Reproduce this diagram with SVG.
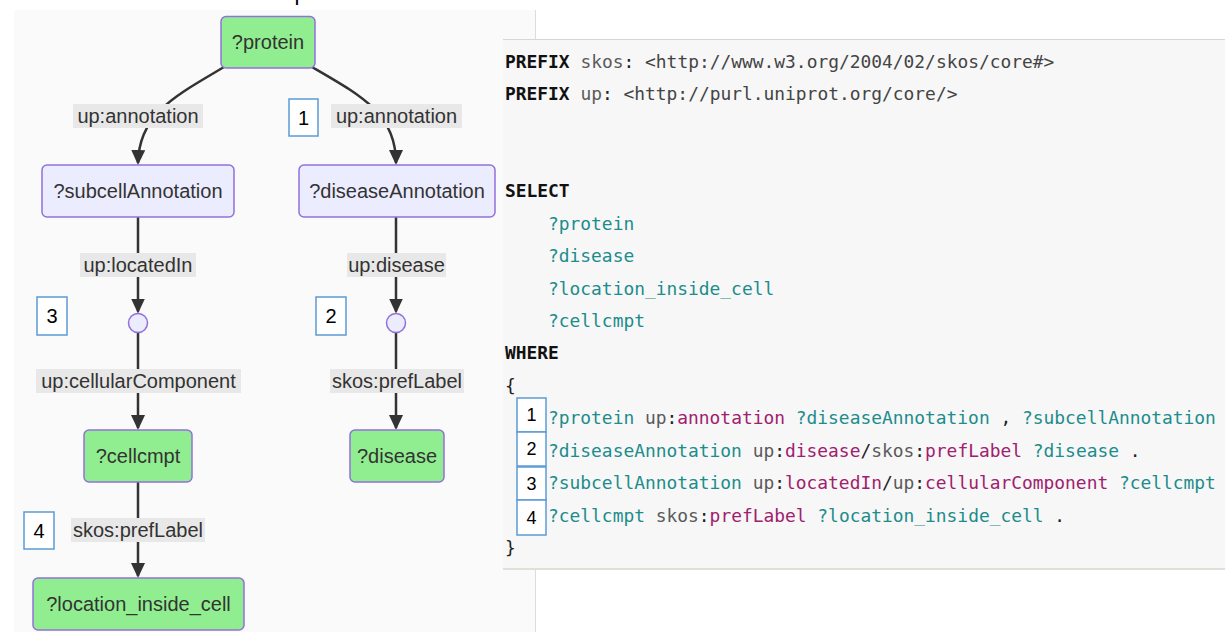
<svg xmlns="http://www.w3.org/2000/svg" width="1225" height="632" viewBox="0 0 1225 632">
<defs>
<style>
.node rect{stroke:#9370db;stroke-width:1.5}
.leaf rect{fill:#90ee90}
.mid rect{fill:#ececff}
.nt{font-family:"Liberation Sans",Arial,sans-serif;font-size:20px;fill:#333;text-anchor:middle;dominant-baseline:central}
.edge{fill:none;stroke:#333;stroke-width:2.5}
.lbg{fill:#e8e8e8}
.lt{font-family:"Liberation Sans",Arial,sans-serif;font-size:20px;fill:#333;text-anchor:middle;dominant-baseline:central}
.num rect{fill:#fff;stroke:#5b9bd5;stroke-width:1.5}
.num text{font-family:"Liberation Sans",Arial,sans-serif;font-size:20px;fill:#000;text-anchor:middle;dominant-baseline:central}
.code{font-family:"DejaVu Sans Mono","Liberation Mono",monospace;font-size:17.9px;fill:#222}
.kw{font-weight:bold;fill:#111}
.pf{fill:#5a5a5a}
.url{fill:#444}
.v{fill:#1c8c8c}
.p{fill:#a0206e}
.cn rect{fill:#fff;stroke:#5b9bd5;stroke-width:1.5}
.cn text{font-family:"Liberation Sans",Arial,sans-serif;font-size:18px;fill:#000;text-anchor:middle;dominant-baseline:central}
</style>
<marker id="ah" markerUnits="userSpaceOnUse" markerWidth="15" markerHeight="14" viewBox="0 0 15 14" refX="13" refY="7" orient="auto">
<path d="M0,0 L15,7 L0,14 z" fill="#333"/>
</marker>
</defs>
<rect x="0" y="0" width="1225" height="632" fill="#fff"/>
<text x="294.5" y="0" font-family="Liberation Sans,Arial,sans-serif" font-size="22" fill="#000">p</text>
<rect x="14" y="10" width="521" height="622" fill="#fafafa"/>
<line x1="535.5" y1="10" x2="535.5" y2="632" stroke="#dcdcdc" stroke-width="1"/>

<g id="connectors">
<path class="edge" d="M224,67 C175,96 139,114 138,163" marker-end="url(#ah)"/>
<path class="edge" d="M312,67 C362,96 396,114 396,163" marker-end="url(#ah)"/>
<path class="edge" d="M138,217 L138,311.5" marker-end="url(#ah)"/>
<path class="edge" d="M396,217 L396,311.5" marker-end="url(#ah)"/>
<path class="edge" d="M138,333 L138,428" marker-end="url(#ah)"/>
<path class="edge" d="M396,333 L396,428" marker-end="url(#ah)"/>
<path class="edge" d="M138,482 L138,576" marker-end="url(#ah)"/>
</g>

<g id="edge-labels">
<rect class="lbg" x="73" y="104" width="130" height="24"/><text class="lt" x="138" y="116">up:annotation</text>
<rect class="lbg" x="331" y="104" width="131" height="24"/><text class="lt" x="396.5" y="116">up:annotation</text>
<rect class="lbg" x="80" y="253" width="116" height="24"/><text class="lt" x="138" y="265">up:locatedIn</text>
<rect class="lbg" x="347" y="253" width="99" height="24"/><text class="lt" x="396.5" y="265">up:disease</text>
<rect class="lbg" x="36" y="369" width="205" height="24"/><text class="lt" x="138.5" y="381">up:cellularComponent</text>
<rect class="lbg" x="330" y="369" width="134" height="24"/><text class="lt" x="397" y="381">skos:prefLabel</text>
<rect class="lbg" x="71" y="518" width="134" height="24"/><text class="lt" x="138" y="530">skos:prefLabel</text>
</g>

<g id="n-protein" class="node leaf"><rect x="221" y="16.5" width="94" height="51.5" rx="5"/><text class="nt" x="268" y="42">?protein</text></g>
<g id="n-subcellAnnotation" class="node mid"><rect x="42" y="165" width="192" height="52" rx="5"/><text class="nt" x="138" y="191">?subcellAnnotation</text></g>
<g id="n-diseaseAnnotation" class="node mid"><rect x="299" y="165" width="196" height="52" rx="5"/><text class="nt" x="397" y="191">?diseaseAnnotation</text></g>
<g id="n-blank1" class="node mid"><circle cx="138" cy="323" r="9.5" fill="#ececff" stroke="#9370db" stroke-width="1.5"/></g>
<g id="n-blank2" class="node mid"><circle cx="396" cy="323" r="9.5" fill="#ececff" stroke="#9370db" stroke-width="1.5"/></g>
<g id="n-cellcmpt" class="node leaf"><rect x="84" y="430" width="108" height="52" rx="5"/><text class="nt" x="138" y="456">?cellcmpt</text></g>
<g id="n-disease" class="node leaf"><rect x="350" y="430" width="94" height="52" rx="5"/><text class="nt" x="397" y="456">?disease</text></g>
<g id="n-location" class="node leaf"><rect x="33" y="578" width="211" height="52" rx="5"/><text class="nt" x="138.5" y="604">?location_inside_cell</text></g>

<g id="badge-1" class="num"><rect x="289" y="99" width="29" height="37"/><text x="303.5" y="117.5">1</text></g>
<g id="badge-2" class="num"><rect x="316" y="297" width="30" height="38"/><text x="331" y="316">2</text></g>
<g id="badge-3" class="num"><rect x="37" y="297" width="30" height="38"/><text x="52" y="316">3</text></g>
<g id="badge-4" class="num"><rect x="24" y="512" width="30" height="37"/><text x="39" y="530.5">4</text></g>

<g id="code-panel">
<rect x="503" y="39" width="722" height="530" fill="#f7f7f7"/>
<line x1="503" y1="39.5" x2="1225" y2="39.5" stroke="#d6d6d6" stroke-width="1"/>
<line x1="503" y1="569" x2="1225" y2="569" stroke="#e0e0d6" stroke-width="2"/>
<g class="code" xml:space="preserve">
<text x="505" y="67.5"><tspan class="kw">PREFIX</tspan> <tspan class="pf">skos</tspan>: <tspan class="url">&lt;http://www.w3.org/2004/02/skos/core#&gt;</tspan></text>
<text x="505" y="100"><tspan class="kw">PREFIX</tspan> <tspan class="pf">up</tspan>: <tspan class="url">&lt;http://purl.uniprot.org/core/&gt;</tspan></text>
<text x="505" y="197"><tspan class="kw">SELECT</tspan></text>
<text x="548" y="229.5" class="v">?protein</text>
<text x="548" y="262" class="v">?disease</text>
<text x="548" y="294.5" class="v">?location_inside_cell</text>
<text x="548" y="327" class="v">?cellcmpt</text>
<text x="505" y="359"><tspan class="kw">WHERE</tspan></text>
<text x="505" y="391.5">{</text>
<text x="548" y="424"><tspan class="v">?protein</tspan> <tspan class="pf">up</tspan>:<tspan class="p">annotation</tspan> <tspan class="v">?diseaseAnnotation</tspan> , <tspan class="v">?subcellAnnotation</tspan></text>
<text x="548" y="456.5"><tspan class="v">?diseaseAnnotation</tspan> <tspan class="pf">up</tspan>:<tspan class="p">disease</tspan>/<tspan class="pf">skos</tspan>:<tspan class="p">prefLabel</tspan> <tspan class="v">?disease</tspan> .</text>
<text x="548" y="489"><tspan class="v">?subcellAnnotation</tspan> <tspan class="pf">up</tspan>:<tspan class="p">locatedIn</tspan>/<tspan class="pf">up</tspan>:<tspan class="p">cellularComponent</tspan> <tspan class="v">?cellcmpt</tspan></text>
<text x="548" y="521.5"><tspan class="v">?cellcmpt</tspan> <tspan class="pf">skos</tspan>:<tspan class="p">prefLabel</tspan> <tspan class="v">?location_inside_cell</tspan> .</text>
<text x="505" y="554">}</text>
</g>
<g id="code-badge-1" class="cn"><rect x="517" y="398" width="29" height="34"/><text x="531.5" y="415">1</text></g>
<g id="code-badge-2" class="cn"><rect x="517" y="432" width="29" height="34"/><text x="531.5" y="449">2</text></g>
<g id="code-badge-3" class="cn"><rect x="517" y="467" width="29" height="33"/><text x="531.5" y="484">3</text></g>
<g id="code-badge-4" class="cn"><rect x="517" y="500" width="29" height="35"/><text x="531.5" y="517.5">4</text></g>
</g>
</svg>
